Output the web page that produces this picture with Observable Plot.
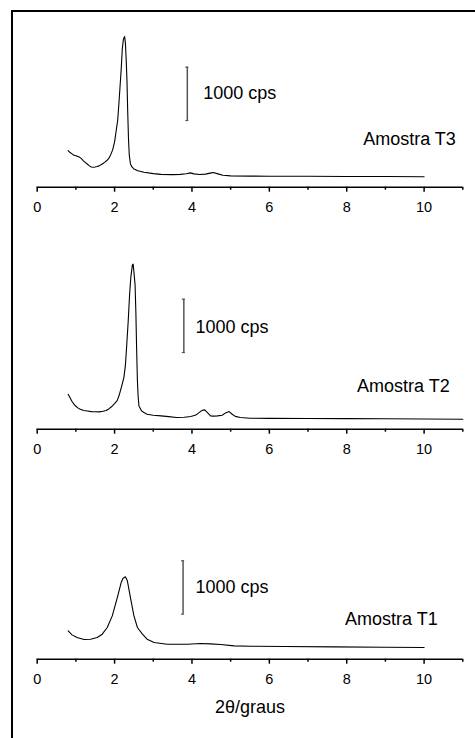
<!DOCTYPE html>
<html>
<head>
<meta charset="utf-8">
<script src="https://cdn.jsdelivr.net/npm/d3@7"></script>
<script src="https://cdn.jsdelivr.net/npm/@observablehq/plot@0.6"></script>
<style>
  html, body { margin: 0; padding: 0; background: #fff; }
  #fig { position: relative; width: 475px; height: 738px; overflow: hidden; font-family: "Liberation Sans", Arial, sans-serif; }
  #frame { position: absolute; left: 11px; top: 10px; width: 480px; height: 740px; border-left: 2px solid #000; border-top: 2px solid #000; }
  .panel { position: absolute; left: 0; }
</style>
</head>
<body>
<div id="fig"><div id="frame"></div></div>
<script>
// ---- data (2θ in degrees, intensity in cps) ----
const t3X = [0.80,0.85,0.90,0.95,1.00,1.05,1.10,1.15,1.20,1.25,1.30,1.35,1.40,1.45,1.50,1.55,1.60,1.65,1.70,1.75,1.80,1.85,1.90,1.95,2.00,2.05,2.08,2.11,2.14,2.17,2.20,2.23,2.26,2.28,2.30,2.32,2.34,2.36,2.38,2.41,2.45,2.50,2.60,2.76,3.00,3.20,3.50,3.70,3.85,3.96,4.05,4.20,4.35,4.50,4.55,4.65,4.80,5.00,5.50,6.00,7.00,8.00,9.00,10.00];
const t3Y = [687,650,625,600,590,575,560,530,490,460,430,400,380,375,380,387,400,420,445,470,500,540,610,700,850,1100,1250,1550,1875,2200,2600,2780,2826,2700,2400,2000,1400,900,600,437,380,343,310,281,255,240,235,240,252,268,250,238,245,268,275,255,225,212,208,205,204,202,200,195];

const t2X = [0.80,0.85,0.90,0.95,1.00,1.05,1.10,1.15,1.20,1.30,1.40,1.50,1.60,1.70,1.78,1.85,1.92,2.00,2.07,2.12,2.18,2.24,2.28,2.31,2.35,2.39,2.42,2.46,2.48,2.50,2.53,2.55,2.57,2.59,2.61,2.63,2.70,2.76,2.84,3.00,3.20,3.40,3.60,3.80,3.97,4.10,4.20,4.27,4.33,4.40,4.48,4.55,4.66,4.78,4.88,4.96,5.04,5.12,5.25,5.50,6.00,7.00,8.00,9.00,10.00,11.00];
const t2Y = [656,590,520,470,430,400,380,365,350,340,330,328,325,335,350,380,420,480,540,640,800,968,1200,1531,2000,2550,2850,3081,3094,2950,2700,2200,1500,906,600,437,340,312,281,262,250,235,220,225,237,265,320,356,362,312,250,245,250,262,310,331,281,240,220,206,203,200,199,195,192,187];

const t1X = [0.80,0.90,1.03,1.21,1.38,1.55,1.68,1.81,1.94,2.07,2.17,2.22,2.28,2.33,2.41,2.50,2.59,2.72,2.84,3.02,3.36,3.88,4.22,4.48,4.74,5.09,5.52,6.38,7.67,8.97,10.00];
const t1Y = [531,456,406,369,375,406,469,594,812,1156,1437,1519,1544,1469,1156,812,594,469,375,312,281,281,294,287,275,250,244,237,231,225,219];

const sampleLabels = ["Amostra T3", "Amostra T2", "Amostra T1"];
const scaleLabel = "1000 cps";
const scaleSize = 1000;
const majorTicks = [0, 2, 4, 6, 8, 10];
const minorTicks = [1, 3, 5, 7, 9, 11];
const xLabel = "2θ/graus";

const panels = [
  {xs: t3X, ys: t3Y, label: sampleLabels[0], top: 0, bar: {x: 3.88, y: 1250}, barText: {x: 4.29, y: 1770}, name: {x: 10.82, y: 908}, xlabel: false},
  {xs: t2X, ys: t2Y, label: sampleLabels[1], top: 241.6, bar: {x: 3.79, y: 1437}, barText: {x: 4.09, y: 1905}, name: {x: 10.66, y: 812}, xlabel: false},
  {xs: t1X, ys: t1Y, label: sampleLabels[2], top: 471.6, bar: {x: 3.77, y: 844}, barText: {x: 4.09, y: 1343}, name: {x: 10.35, y: 750}, xlabel: true}
];

const fig = document.getElementById("fig");
const font = "Liberation Sans, Arial, sans-serif";

for (const p of panels) {
  const data = p.xs.map((x, i) => ({x, y: p.ys[i]}));
  const mb = p.xlabel ? 80 : 53.3;
  const H = p.xlabel ? 266.7 : 240;
  const marks = [
    Plot.ruleY([0], {stroke: "#000", strokeWidth: 1.5}),
    Plot.axisX({ticks: majorTicks, tickSize: 5, tickFormat: () => "", strokeWidth: 1.5, label: null}),
    Plot.axisX({ticks: minorTicks, tickSize: 3, tickFormat: () => "", strokeWidth: 1.5, label: null}),
    Plot.text(majorTicks, {x: d => d, y: 0, text: d => String(d), dy: 20.5, lineAnchor: "middle", fontSize: 14.5, fill: "#000"}),
    Plot.line(data, {x: "x", y: "y", stroke: "#000", strokeWidth: 1.1}),
    Plot.ruleX([p.bar], {x: "x", y1: "y", y2: d => d.y + scaleSize, stroke: "#555", strokeWidth: 1.5}),
    Plot.ruleY([p.bar.y, p.bar.y + scaleSize], {y: d => d, x1: p.bar.x - 0.04, x2: p.bar.x + 0.04, stroke: "#555", strokeWidth: 1.2}),
    Plot.text([scaleLabel], {x: p.barText.x, y: p.barText.y, text: d => d, textAnchor: "start", lineAnchor: "middle", fontSize: 18, fill: "#000"}),
    Plot.text([p.label], {x: p.name.x, y: p.name.y, text: d => d, textAnchor: "end", lineAnchor: "middle", fontSize: 18, fill: "#000"})
  ];
  if (p.xlabel) {
    marks.push(Plot.text([xLabel], {text: d => d, frameAnchor: "bottom", dy: 47.7, lineAnchor: "middle", fontSize: 18, fill: "#000"}));
  }
  const chart = Plot.plot({
    width: 475,
    height: H,
    marginLeft: 36.7,
    marginRight: 12.7,
    marginTop: 16,
    marginBottom: mb,
    style: {fontFamily: font, background: "transparent", overflow: "visible"},
    x: {domain: [0, 11]},
    y: {domain: [0, 3200], axis: null},
    marks
  });
  const wrap = document.createElement("div");
  wrap.className = "panel";
  wrap.style.top = p.top + "px";
  wrap.appendChild(chart);
  fig.appendChild(wrap);
}
</script>
</body>
</html>
